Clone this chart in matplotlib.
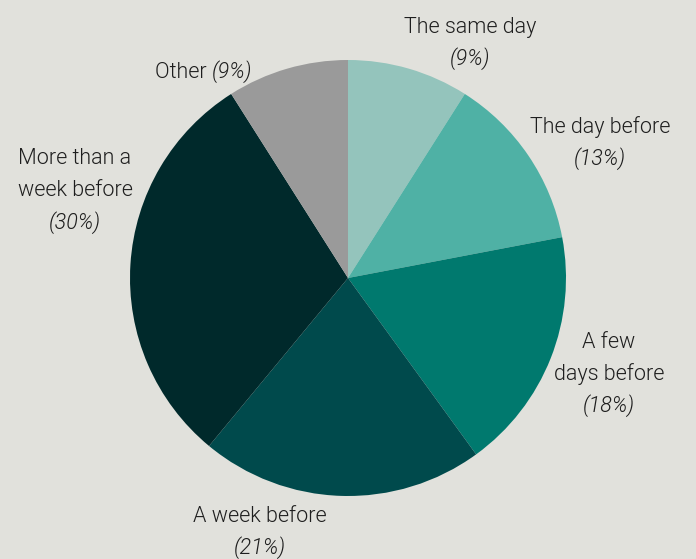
import matplotlib.pyplot as plt

# Share of responses, going clockwise from 12 o'clock
categories = ["The same day", "The day before", "A few\ndays before",
              "A week before", "More than a\nweek before", "Other"]
shares = [9, 13, 18, 21, 30, 9]
colors = ["#94c4bc", "#4fb1a5", "#00796e", "#004a4c", "#00292b", "#9a9a9a"]

bg = "#e1e1dc"
W, H = 696, 559

fig = plt.figure(figsize=(W / 100, H / 100), dpi=100, facecolor=bg)
ax = fig.add_axes([0, 0, 1, 1])
ax.set_facecolor(bg)

# work in pixel units, y pointing up (so rows are negative)
cx, cy, r = 348, 278, 218
ax.pie(shares, colors=colors, startangle=90, counterclock=False,
       center=(cx, -cy), radius=r, frame=True,
       wedgeprops=dict(linewidth=0))
ax.set_xlim(0, W)
ax.set_ylim(-H, 0)
ax.set_aspect("equal")
ax.axis("off")

font = "Roboto"
wt = 300
tcol = "#1e1e1e"
fs = 15.5
lh = 32

# label anchor points (center of first line), in pixels
label_pos = [(470, 27), (600, 127), (609, 342), (260, 516), (75, 159), (222, 72)]

for cat, val, (x, y) in zip(categories, shares, label_pos):
    lines = cat.split("\n")
    if cat == "Other":
        ax.text(x - 10, -y, cat + " ", ha="right", va="center", fontsize=fs,
                color=tcol, family=font, fontweight=wt)
        ax.text(x - 10, -y, f"({val}%)", ha="left", va="center", fontsize=fs,
                color=tcol, family=font, fontweight=wt, style="italic")
        continue
    for i, ln in enumerate(lines):
        ax.text(x, -(y + i * lh), ln, ha="center", va="center", fontsize=fs,
                color=tcol, family=font, fontweight=wt)
    ax.text(x, -(y + len(lines) * lh), f"({val}%)", ha="center", va="center",
            fontsize=fs, color=tcol, family=font, fontweight=wt,
            style="italic")

fig.savefig("out.png", dpi=100, facecolor=bg)
